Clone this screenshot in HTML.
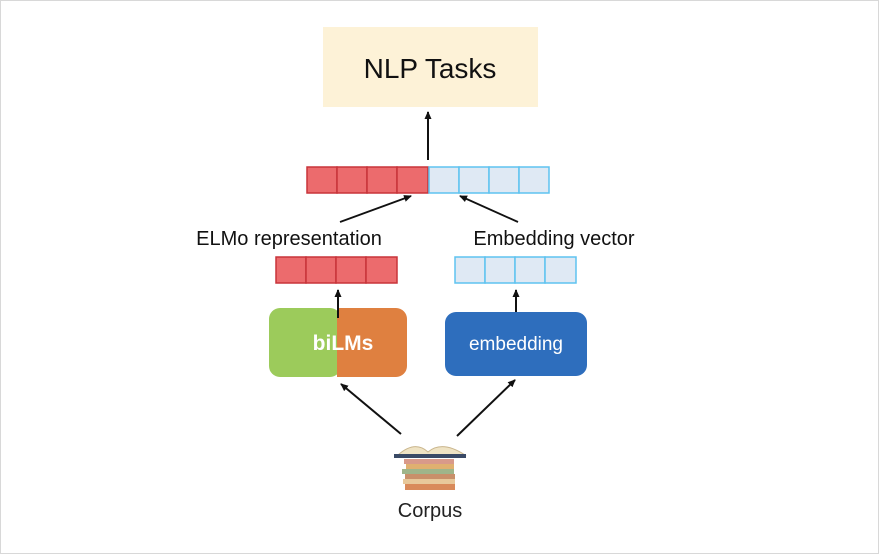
<!DOCTYPE html>
<html><head><meta charset="utf-8"><style>
body{margin:0;background:#fff;}
</style></head><body>
<svg width="888" height="554" xmlns="http://www.w3.org/2000/svg" font-family="Liberation Sans, sans-serif">
<defs><marker id="a" markerWidth="8" markerHeight="8" refX="7" refY="4" orient="auto" markerUnits="userSpaceOnUse"><path d="M0,0.5 L8,4 L0,7.5 z" fill="#111"/></marker></defs>
<rect x="0.5" y="0.5" width="878" height="553" fill="#fff" stroke="#d8d8d8"/>
<rect x="323" y="27" width="215" height="80" fill="#fdf2d7"/>
<text x="430" y="78" font-size="28" text-anchor="middle" fill="#111">NLP Tasks</text>
<line x1="428" y1="160" x2="428" y2="112" stroke="#111" stroke-width="2" marker-end="url(#a)"/>
<g stroke="#c8343a" stroke-width="1.5" fill="#ec6b6d">
<rect x="307" y="167" width="30" height="26"/><rect x="337" y="167" width="30" height="26"/><rect x="367" y="167" width="30" height="26"/><rect x="397" y="167" width="31" height="26"/>
<rect x="276" y="257" width="30" height="26"/><rect x="306" y="257" width="30" height="26"/><rect x="336" y="257" width="30" height="26"/><rect x="366" y="257" width="31" height="26"/>
</g>
<g stroke="#5ec3f0" stroke-width="1.5" fill="#dfe9f4">
<rect x="429" y="167" width="30" height="26"/><rect x="459" y="167" width="30" height="26"/><rect x="489" y="167" width="30" height="26"/><rect x="519" y="167" width="30" height="26"/>
<rect x="455" y="257" width="30" height="26"/><rect x="485" y="257" width="30" height="26"/><rect x="515" y="257" width="30" height="26"/><rect x="545" y="257" width="31" height="26"/>
</g>
<line x1="340" y1="222" x2="411" y2="196" stroke="#111" stroke-width="1.8" marker-end="url(#a)"/>
<line x1="518" y1="222" x2="460" y2="196" stroke="#111" stroke-width="1.8" marker-end="url(#a)"/>
<text x="289" y="245" font-size="20" text-anchor="middle" fill="#111">ELMo representation</text>
<text x="554" y="245" font-size="20" text-anchor="middle" fill="#111">Embedding vector</text>
<rect x="269" y="308" width="72" height="69" rx="11" fill="#9ccb5b"/>
<rect x="337" y="308" width="70" height="69" rx="11" fill="#df8040"/>
<rect x="337" y="308" width="12" height="69" fill="#df8040"/>
<line x1="338" y1="318" x2="338" y2="290" stroke="#111" stroke-width="2" marker-end="url(#a)"/>
<text x="343" y="350" font-size="21" font-weight="bold" text-anchor="middle" fill="#fff">biLMs</text>
<rect x="445" y="312" width="142" height="64" rx="11" fill="#2e6ebd"/>
<text x="516" y="350" font-size="19" text-anchor="middle" fill="#fff">embedding</text>
<line x1="516" y1="312" x2="516" y2="290" stroke="#111" stroke-width="2" marker-end="url(#a)"/>
<line x1="401" y1="434" x2="341" y2="384" stroke="#111" stroke-width="2" marker-end="url(#a)"/>
<line x1="457" y1="436" x2="515" y2="380" stroke="#111" stroke-width="2" marker-end="url(#a)"/>
<g>
<path d="M398,455 Q415,440 428,452 Q442,440 465,455 Z" fill="#efe3c4" stroke="#c9b58c"/>
<rect x="394" y="454" width="72" height="4" fill="#3a4a66"/>
<rect x="404" y="459" width="50" height="5" fill="#d99a8a"/>
<rect x="406" y="464" width="48" height="5" fill="#e0b070"/>
<rect x="402" y="469" width="52" height="5" fill="#9fb58a"/>
<rect x="405" y="474" width="50" height="5" fill="#c9906a"/>
<rect x="403" y="479" width="52" height="5" fill="#e8c89a"/>
<rect x="405" y="484" width="50" height="6" fill="#d98a5a"/>
</g>
<text x="430" y="517" font-size="20" text-anchor="middle" fill="#222">Corpus</text>
</svg>
</body></html>
